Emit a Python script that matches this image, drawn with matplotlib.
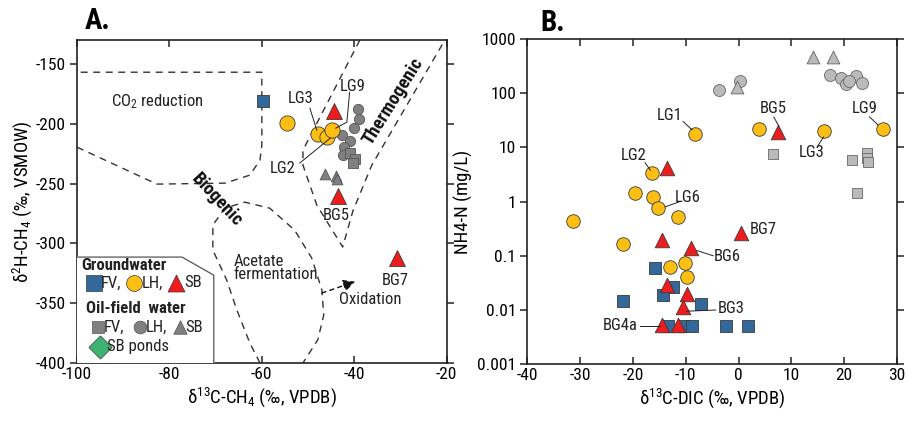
import matplotlib
matplotlib.use("Agg")
import matplotlib.pyplot as plt
from matplotlib import font_manager
import numpy as np

# font: condensed look if available
fam = "DejaVu Sans"
for cand in ["Liberation Sans Narrow", "Roboto Condensed", "Liberation Sans"]:
    try:
        font_manager.findfont(cand, fallback_to_default=False)
        fam = cand
        break
    except Exception:
        pass
plt.rcParams["font.family"] = [fam, "DejaVu Sans"]
plt.rcParams["mathtext.fontset"] = "custom"
plt.rcParams["mathtext.rm"] = fam
plt.rcParams["mathtext.it"] = fam
plt.rcParams["axes.unicode_minus"] = False

# ---------------- Panel A data: d13C-CH4 vs d2H-CH4 ----------------
a_gw_fv_x = [-59.8]
a_gw_fv_y = [-181]
a_gw_lh_x = [-54.6, -47.9, -45.9, -44.9]
a_gw_lh_y = [-199.4, -208.6, -211.1, -205.3]
a_gw_sb_x = [-44.4, -43.6, -30.8]
a_gw_sb_y = [-189.4, -260.4, -312.3]
a_of_fv_x = [-41.0, -39.9, -40.3]
a_of_fv_y = [-224.5, -229.5, -232.8]
a_of_lh_x = [-39.2, -39.0, -40.1, -42.7, -41.0, -42.3, -42.5]
a_of_lh_y = [-187.7, -196.1, -203.6, -209.4, -214.5, -219.5, -226.2]
a_of_sb_x = [-46.4, -44.0, -43.8]
a_of_sb_y = [-242, -243.7, -246.2]

# field boundaries (Whiticar-style)
co2_x = [-100, -82.7, -68.0, -62.6, -60.4, -60.0, -60.0, -100]
co2_y = [-219.5, -250.4, -249.6, -242.9, -230.3, -217.8, -156.8, -156.8]
thermo_x = [-38.8, -51.1, -51.1, -48.1, -42.5, -40.3, -36.2, -20.4]
thermo_y = [-130, -222, -234.5, -268, -303, -273, -234.5, -130]
acet_x = [-60.4, -62.6, -65.4, -67.6, -70.6, -70.6, -68.0, -63.7, -58.3,
          -52.9, -49.2, -47.0, -46.6, -47.9, -51.1]
acet_y = [-400, -383.3, -355.8, -330.7, -305.6, -284.7, -270.5, -265.5,
          -270.5, -288.9, -312.3, -339, -360, -380.8, -400]

# ---------------- Panel B data: d13C-DIC vs NH4-N ----------------
b_gw_fv_x = [-15.8, -12.4, -14.3, -21.9, -7.1, -13.3, -10.5, -8.8, -2.4, 1.8]
b_gw_fv_y = [0.06, 0.026, 0.019, 0.0148, 0.0129, 0.005, 0.005, 0.005, 0.005, 0.005]
b_gw_lh_x = [-8.2, 3.9, 16.1, 27.3, -16.4, -19.6, -16.2, -15.2, -11.5,
             -31.3, -21.9, -10.1, -13.0, -9.8]
b_gw_lh_y = [17.7, 22, 20, 22, 3.3, 1.44, 1.2, 0.76, 0.52,
             0.44, 0.166, 0.074, 0.062, 0.041]
b_gw_sb_x = [7.4, -13.5, -14.5, -9.0, 0.45, -13.5, -9.8, -10.5, -14.5, -11.5]
b_gw_sb_y = [19, 4.2, 0.195, 0.14, 0.26, 0.029, 0.020, 0.0115, 0.0052, 0.0052]
b_of_fv_x = [6.5, 21.4, 24.3, 24.4, 24.6, 22.4]
b_of_fv_y = [7.5, 5.8, 7.9, 6.3, 5.3, 1.44]
b_of_lh_x = [-3.7, 0.3, 17.3, 19.5, 20.3, 22.2, 23.4, 21.0]
b_of_lh_y = [115, 168, 218, 190, 150, 210, 155, 165]
b_of_sb_x = [-0.3, 14.1, 17.9]
b_of_sb_y = [130, 465, 465]

BLUE = "#33699a"
YEL = "#fdbf14"
RED = "#ee1c1c"
GRAY_A = "#808080"
GRAY_B = "#bababa"
GREEN = "#3cb371"
EDGE = "#3a3a3a"
DASH = (0, (5, 4))

fig = plt.figure(figsize=(9.06, 4.23), dpi=100)
axA = fig.add_axes([0.085, 0.142, 0.408, 0.763])
axB = fig.add_axes([0.582, 0.139, 0.408, 0.769])

for ax in (axA, axB):
    for s in ax.spines.values():
        s.set_linewidth(1.2)
        s.set_color("#222222")
    ax.tick_params(which="both", direction="in", top=True, right=True,
                   labelsize=12.5, length=5, width=1.1, color="#222222", pad=3)
    ax.tick_params(axis="y", which="both", direction="out")

# ---------------- Panel A ----------------
axA.set_xlim(-100, -20)
axA.set_ylim(-400, -130)
axA.set_xticks(np.arange(-100, -19, 20))
axA.set_yticks(np.arange(-400, -149, 50))
for xs, ys in [(co2_x, co2_y), (thermo_x, thermo_y), (acet_x, acet_y)]:
    axA.plot(xs, ys, color="#333333", lw=1.0, linestyle=DASH, zorder=1)

axA.scatter(a_of_lh_x, a_of_lh_y, s=55, marker="o", c=GRAY_A, edgecolors="#555555", linewidths=0.6, zorder=3)
axA.scatter(a_of_fv_x, a_of_fv_y, s=45, marker="s", c=GRAY_A, edgecolors="#555555", linewidths=0.6, zorder=3)
axA.scatter(a_of_sb_x, a_of_sb_y, s=60, marker="^", c=GRAY_A, edgecolors="#555555", linewidths=0.6, zorder=3)
axA.scatter(a_gw_fv_x, a_gw_fv_y, s=85, marker="s", c=BLUE, edgecolors=EDGE, linewidths=0.6, zorder=4)
axA.scatter(a_gw_lh_x, a_gw_lh_y, s=120, marker="o", c=YEL, edgecolors=EDGE, linewidths=0.6, zorder=4)
axA.scatter(a_gw_sb_x, a_gw_sb_y, s=130, marker="^", c=RED, edgecolors=EDGE, linewidths=0.6, zorder=5)

lab = dict(fontsize=12, color="#222222", zorder=6)
axA.text(-51.6, -178.5, "LG3", ha="center", va="center", **lab)
axA.plot([-49.6, -48.1], [-186.9, -205.3], color="#222222", lw=0.7, zorder=6)
axA.text(-40.3, -168.5, "LG9", ha="center", va="center", **lab)
axA.plot([-41.0, -41.6, -44.0], [-173.5, -198.6, -203.6], color="#222222", lw=0.7, zorder=6)
axA.text(-55.5, -237, "LG2", ha="center", va="center", **lab)
axA.plot([-51.8, -45.2], [-232.8, -212], color="#222222", lw=0.7, zorder=6)
axA.text(-43.8, -276.3, "BG5", ha="center", va="center", **lab)
axA.text(-31.2, -330.7, "BG7", ha="center", va="center", **lab)

axA.text(-82.7, -181.8, "CO$_2$ reduction", ha="center", va="center", fontsize=12, color="#222222")
axA.text(-66.1, -320.6, "Acetate\nfermentation", ha="left", va="center", fontsize=12,
         color="#222222", linespacing=0.9)
axA.text(-36.6, -346.6, "Oxidation", ha="center", va="center", fontsize=12, color="#222222")
axA.text(-31.5, -181, "Thermogenic", ha="center", va="center", fontsize=13.5, weight="bold",
         rotation=58, color="#111111")
axA.text(-69.7, -263.8, "Biogenic", ha="center", va="center", fontsize=13.5, weight="bold",
         rotation=-47, color="#111111")
axA.annotate("", xy=(-39.8, -332.0), xytext=(-47.0, -341.5),
             arrowprops=dict(arrowstyle="-|>", linestyle=(0, (3, 3)), color="#111111",
                             lw=1.0, mutation_scale=18, shrinkA=0, shrinkB=0))

# legend box, drawn in axes coordinates
tA = axA.transAxes
axA.plot([0, 0.284, 0.370, 0.370], [0.328, 0.328, 0.272, 0], transform=tA,
         color="#555555", lw=0.9, zorder=6, clip_on=False)
axA.fill([0, 0.284, 0.370, 0.370, 0], [0.328, 0.328, 0.272, 0, 0], transform=tA,
         color="white", zorder=5.5)
lg = dict(transform=tA, va="center", fontsize=12, color="#222222", zorder=7)
axA.text(0.012, 0.303, "Groundwater", ha="left", weight="bold", **lg)
axA.text(0.025, 0.170, "Oil-field  water", ha="left", weight="bold", **lg)
row2, row4, row5 = 0.248, 0.111, 0.050
axA.scatter([0.046], [row2], s=120, marker="s", c=BLUE, edgecolors=EDGE, linewidths=0.5, transform=tA, zorder=7)
axA.scatter([0.155], [row2], s=130, marker="o", c=YEL, edgecolors=EDGE, linewidths=0.5, transform=tA, zorder=7)
axA.scatter([0.268], [row2], s=150, marker="^", c=RED, edgecolors=EDGE, linewidths=0.5, transform=tA, zorder=7)
axA.text(0.063, row2, "FV,", ha="left", **lg)
axA.text(0.175, row2, "LH,", ha="left", **lg)
axA.text(0.291, row2, "SB", ha="left", **lg)
axA.scatter([0.057], [row4], s=80, marker="s", c=GRAY_A, edgecolors="#555555", linewidths=0.5, transform=tA, zorder=7)
axA.scatter([0.170], [row4], s=85, marker="o", c=GRAY_A, edgecolors="#555555", linewidths=0.5, transform=tA, zorder=7)
axA.scatter([0.278], [row4], s=95, marker="^", c=GRAY_A, edgecolors="#555555", linewidths=0.5, transform=tA, zorder=7)
axA.text(0.073, row4, "FV,", ha="left", **lg)
axA.text(0.185, row4, "LH,", ha="left", **lg)
axA.text(0.293, row4, "SB", ha="left", **lg)
axA.scatter([0.062], [row5], s=140, marker="D", c=GREEN, edgecolors=EDGE, linewidths=0.5, transform=tA, zorder=7)
axA.text(0.082, row5, "SB ponds", ha="left", **lg)

axA.set_xlabel("δ$^{13}$C-CH$_4$ (‰, VPDB)", fontsize=13.5, labelpad=2)
axA.set_ylabel("δ$^{2}$H-CH$_4$ (‰, VSMOW)", fontsize=13.5, labelpad=1)

# ---------------- Panel B ----------------
axB.set_yscale("log")
axB.set_xlim(-40, 30)
axB.set_ylim(0.001, 1000)
axB.set_xticks(np.arange(-40, 31, 10))
yt = [0.001, 0.01, 0.1, 1, 10, 100, 1000]
axB.set_yticks(yt)
axB.set_yticklabels(["0.001", "0.01", "0.1", "1", "10", "100", "1000"])
axB.minorticks_off()

axB.scatter(b_of_lh_x, b_of_lh_y, s=75, marker="o", c=GRAY_B, edgecolors="#666666", linewidths=0.6, zorder=3)
axB.scatter(b_of_sb_x, b_of_sb_y, s=85, marker="^", c=GRAY_B, edgecolors="#666666", linewidths=0.6, zorder=3)
axB.scatter(b_of_fv_x, b_of_fv_y, s=55, marker="s", c=GRAY_B, edgecolors="#666666", linewidths=0.6, zorder=3)
axB.scatter(b_gw_fv_x, b_gw_fv_y, s=80, marker="s", c=BLUE, edgecolors=EDGE, linewidths=0.6, zorder=4)
axB.scatter(b_gw_lh_x, b_gw_lh_y, s=95, marker="o", c=YEL, edgecolors=EDGE, linewidths=0.6, zorder=4)
axB.scatter(b_gw_sb_x, b_gw_sb_y, s=110, marker="^", c=RED, edgecolors=EDGE, linewidths=0.6, zorder=5)

axB.text(-13.0, 38, "LG1", ha="center", va="center", **lab)
axB.plot([-10.5, -8.8], [30, 21], color="#222222", lw=0.7, zorder=6)
axB.text(-19.8, 7.2, "LG2", ha="center", va="center", **lab)
axB.plot([-17.7, -16.7], [5.2, 3.8], color="#222222", lw=0.7, zorder=6)
axB.text(-9.6, 1.2, "LG6", ha="center", va="center", **lab)
axB.plot([-11.3, -13.9], [0.98, 0.80], color="#222222", lw=0.7, zorder=6)
axB.text(6.5, 53, "BG5", ha="center", va="center", **lab)
axB.plot([6.7, 7.6], [36, 25], color="#222222", lw=0.7, zorder=6)
axB.text(13.9, 7.9, "LG3", ha="center", va="center", **lab)
axB.plot([15.0, 16.1], [10.6, 15.5], color="#222222", lw=0.7, zorder=6)
axB.text(23.9, 51, "LG9", ha="center", va="center", **lab)
axB.plot([24.8, 26.4], [36.5, 26], color="#222222", lw=0.7, zorder=6)
axB.text(2.2, 0.31, "BG7", ha="left", va="center", **lab)
axB.text(-4.7, 0.095, "BG6", ha="left", va="center", **lab)
axB.plot([-7.9, -4.8], [0.125, 0.10], color="#222222", lw=0.7, zorder=6)
axB.text(-3.9, 0.0105, "BG3", ha="left", va="center", **lab)
axB.plot([-9.8, -4.3], [0.0095, 0.0100], color="#222222", lw=0.7, zorder=6)
axB.text(-19.2, 0.0051, "BG4a", ha="right", va="center", **lab)
axB.plot([-18.6, -14.9], [0.0051, 0.0051], color="#222222", lw=0.7, zorder=6)

axB.set_xlabel("δ$^{13}$C-DIC (‰, VPDB)", fontsize=13.5, labelpad=2)
axB.set_ylabel("NH4-N (mg/L)", fontsize=13.5, labelpad=3)

fig.text(85 / 906, 1 - 21 / 423, "A.", ha="left", va="center", fontsize=21, weight="bold")
fig.text(540 / 906, 1 - 23 / 423, "B.", ha="left", va="center", fontsize=21, weight="bold")

fig.savefig("out.png", dpi=100)
